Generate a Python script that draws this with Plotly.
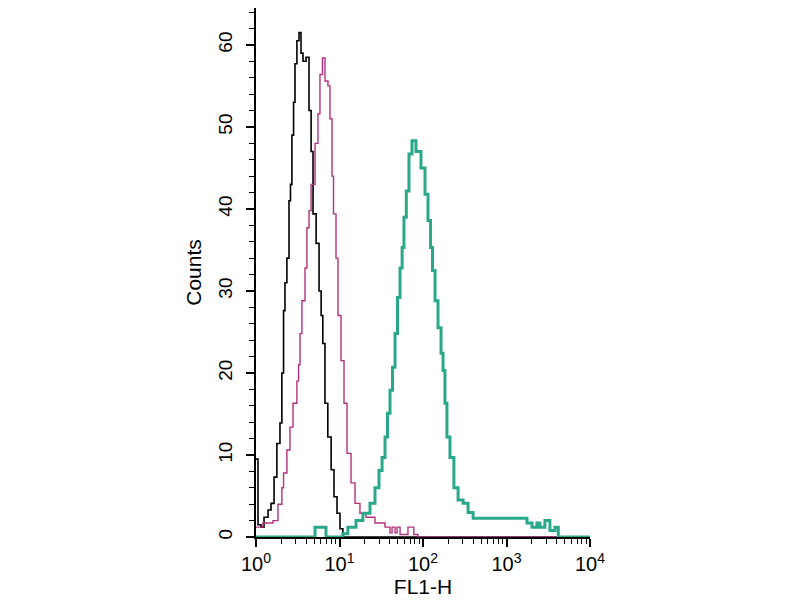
import numpy as np
import plotly.graph_objects as go

# histogram traces: position in decades (log10 FL1-H), counts
black_dec = [0.00, 0.024, 0.06, 0.096, 0.144, 0.18, 0.216, 0.25, 0.287, 0.31, 0.33, 0.347,
             0.37, 0.395, 0.413, 0.43, 0.45, 0.467, 0.49, 0.515, 0.539, 0.563, 0.60, 0.635,
             0.66, 0.683, 0.72, 0.755, 0.78, 0.80, 0.826, 0.86, 0.90, 0.934, 0.97, 1.006,
             1.04, 4.0]
black_cnt = [9.5, 1.5, 1.2, 2.4, 3.3, 4.1, 7.3, 11.4, 13.9, 20, 27.6, 31,
             34, 41, 43, 49, 53, 57.7, 60.5, 61.5, 59, 58, 58.5, 52,
             47, 39.4, 35.8, 30, 27, 23.6, 16.3, 12.2, 8.2, 4.9, 2.9, 1,
             0, 0]

magenta_dec = [0.0, 0.084, 0.204, 0.263, 0.31, 0.33, 0.37, 0.407, 0.443, 0.49, 0.51, 0.527,
               0.55, 0.587, 0.61, 0.635, 0.66, 0.707, 0.742, 0.766, 0.796, 0.826, 0.862,
               0.886, 0.91, 0.928, 0.958, 0.982, 1.018, 1.054, 1.09, 1.138, 1.186, 1.245,
               1.317, 1.425, 1.545, 1.605, 1.63, 1.665, 1.69, 1.725, 1.82, 1.89, 1.94, 4.0]
magenta_cnt = [1.2, 1.7, 2, 4, 6, 7.8, 10.6, 13.4, 16.3, 19, 21, 24.8,
               28.8, 32.8, 37.7, 39.8, 43, 48, 51.6, 56.4, 58.4, 55.6, 55,
               51, 44, 39.4, 34, 27, 21.5, 16.3, 10.2, 6.6, 4.1, 2.9,
               2.4, 1.7, 1.2, 0.5, 1.2, 0.5, 1.2, 0.3, 1.2, 0.3, 0, 0]

teal_dec = [0.0, 0.707, 0.838, 1.04, 1.10, 1.198, 1.28, 1.365, 1.425, 1.473, 1.51, 1.545,
            1.575, 1.605, 1.635, 1.665, 1.695, 1.725, 1.75, 1.772, 1.80, 1.832, 1.868,
            1.916, 1.976, 2.024, 2.06, 2.09, 2.114, 2.144, 2.18, 2.216, 2.24, 2.263,
            2.287, 2.323, 2.37, 2.42, 2.48, 2.54, 2.60, 3.20, 3.245, 3.305, 3.365,
            3.40, 3.46, 3.52, 3.58, 3.62, 4.0]
teal_cnt = [0, 1.2, 0, 0.4, 1.2, 2, 2.9, 4.1, 6, 8.1, 9.7, 12.2,
            15.1, 17.9, 20.7, 24.8, 29.2, 32.8, 35.3, 39, 42.2, 46.7, 48.3,
            47, 45, 41.8, 38.6, 35.3, 32.5, 28.8, 25.5, 22.4, 20.3, 16.3,
            12.2, 9.7, 6, 4.5, 4.1, 3, 2.3, 2.3, 1.7, 1.2, 1.7,
            1.2, 2, 0.8, 1.2, 0, 0]

x_ticks = [1, 10, 100, 1000, 10000]
x_ticktext = ["10<sup>0</sup>", "10<sup>1</sup>", "10<sup>2</sup>", "10<sup>3</sup>", "10<sup>4</sup>"]
x_minor = [m * d for d in [1, 10, 100, 1000] for m in range(2, 10)]

fig = go.Figure()

fig.add_trace(go.Scatter(
    x=10 ** np.array(black_dec), y=black_cnt, mode='lines', line_shape='hv',
    line=dict(color='black', width=1.6), showlegend=False))

fig.add_trace(go.Scatter(
    x=10 ** np.array(magenta_dec), y=magenta_cnt, mode='lines', line_shape='hv',
    line=dict(color='rgb(180,50,125)', width=1.4), showlegend=False))

fig.add_trace(go.Scatter(
    x=10 ** np.array(teal_dec), y=teal_cnt, mode='lines', line_shape='hv',
    line=dict(color='rgb(42,168,138)', width=3), showlegend=False))

fnt = 'Liberation Sans, Arial'

fig.update_layout(
    width=800, height=600,
    # page is offset by the body margin, so margins are shifted a little
    margin=dict(l=248, r=218, t=0, b=71),
    plot_bgcolor='white', paper_bgcolor='white',
    xaxis=dict(
        type='log', range=[0, 4],
        tickvals=x_ticks, ticktext=x_ticktext,
        ticks='outside', ticklen=8, tickwidth=1.5, tickcolor='black',
        minor=dict(tickvals=x_minor, ticks='outside', ticklen=5, tickwidth=1.2, tickcolor='black'),
        showline=True, linecolor='black', linewidth=2,
        showgrid=False, zeroline=False,
        tickfont=dict(family=fnt, size=20, color='black'),
        title=dict(text='FL1-H', font=dict(family=fnt, size=21, color='black'), standoff=0),
    ),
    yaxis=dict(
        range=[0, 64.5],
        tickvals=[0, 10, 20, 30, 40, 50, 60],
        ticks='outside', ticklen=8, tickwidth=1.5, tickcolor='black',
        minor=dict(dtick=2, ticks='outside', ticklen=5, tickwidth=1.2, tickcolor='black'),
        tickangle=-90, ticklabelstandoff=6,
        showline=True, linecolor='black', linewidth=2,
        showgrid=False, zeroline=False,
        tickfont=dict(family=fnt, size=19, color='black'),
        title=dict(text='Counts', font=dict(family=fnt, size=21, color='black'), standoff=8),
    ),
)

fig.write_html("out.html")
